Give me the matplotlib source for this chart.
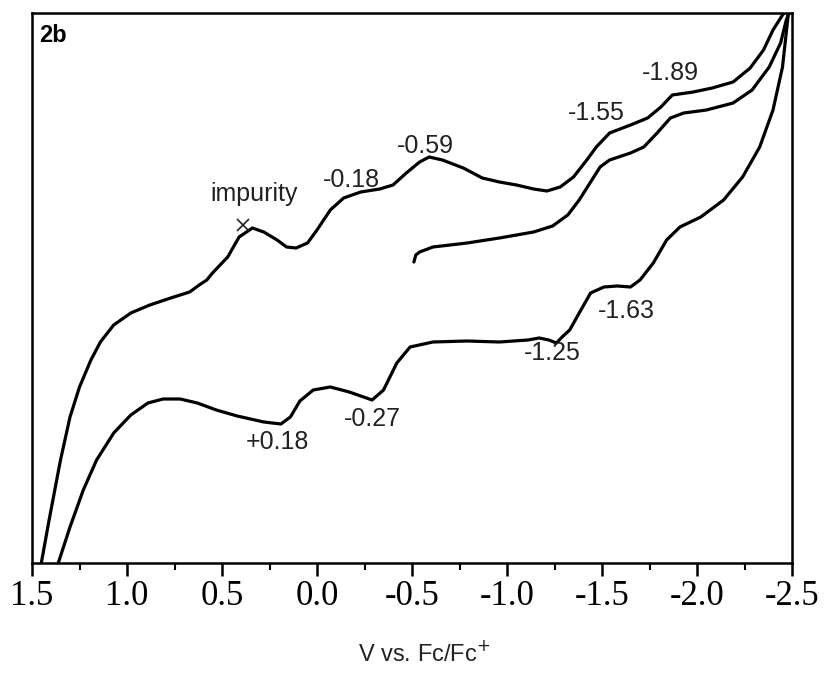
import numpy as np
import matplotlib
matplotlib.use("Agg")
import matplotlib.pyplot as plt

plt.rcParams['axes.unicode_minus'] = False

# forward scan (upper branch): potential (V) and current (arb. units)
up_v = [1.46, 1.45, 1.41, 1.35, 1.30, 1.25, 1.19, 1.14, 1.07, 0.98, 0.88, 0.77,
        0.67, 0.62, 0.58, 0.55, 0.47, 0.41, 0.34, 0.28, 0.21, 0.16, 0.11, 0.05,
        0.00, -0.07, -0.14, -0.23, -0.33, -0.40, -0.47, -0.54, -0.59, -0.66,
        -0.77, -0.87, -0.96, -1.05, -1.14, -1.21, -1.28, -1.35, -1.42, -1.47,
        -1.54, -1.65, -1.74, -1.81, -1.87, -1.98, -2.08, -2.19, -2.28, -2.35,
        -2.40, -2.45, -2.50]
up_i = [-12, 1, 43, 103, 146, 176, 203, 221, 238, 250, 258, 265,
        271, 278, 283, 290, 306, 326, 335, 331, 323, 316, 315, 320,
        333, 353, 365, 371, 374, 378, 390, 401, 406, 403,
        395, 385, 381, 378, 374, 372, 376, 386, 403, 416,
        430, 438, 445, 456, 468, 471, 475, 481, 495, 513,
        533, 548, 560]

# initial scan from -0.5 V (middle branch)
mid_v = [-0.51, -0.52, -0.54, -0.61, -0.79, -0.96, -1.14, -1.24, -1.32, -1.38,
         -1.44, -1.49, -1.54, -1.65, -1.72, -1.79, -1.86, -1.93, -2.05, -2.19,
         -2.29, -2.38, -2.44, -2.47, -2.50]
mid_i = [301, 308, 311, 316, 320, 325, 331, 337, 348, 363,
         381, 396, 403, 410, 416, 430, 445, 450, 453, 460,
         473, 496, 520, 543, 558]

# return scan (lower branch)
low_v = [-2.50, -2.48, -2.45, -2.40, -2.33, -2.24, -2.14, -2.02, -1.91, -1.84,
         -1.77, -1.70, -1.65, -1.58, -1.51, -1.44, -1.38, -1.33, -1.29, -1.26,
         -1.22, -1.17, -1.11, -0.96, -0.79, -0.61, -0.49, -0.42, -0.35, -0.29,
         -0.17, -0.07, 0.02, 0.09, 0.14, 0.19, 0.28, 0.42, 0.53, 0.63, 0.72,
         0.81, 0.89, 0.98, 1.07, 1.16, 1.23, 1.30, 1.36, 1.38]
low_i = [558, 548, 496, 453, 416, 386, 363, 346, 336, 323,
         300, 283, 276, 277, 276, 270, 250, 233, 226, 220,
         223, 225, 223, 221, 222, 221, 216, 200, 173, 163,
         171, 176, 173, 162, 146, 139, 141, 147, 153, 160, 164,
         164, 160, 148, 130, 103, 73, 36, 1, -12]

# peak labels: text, potential, current
labels = ["impurity", "-0.18", "-0.59", "-1.55", "-1.89",
          "-1.63", "-1.25", "+0.18", "-0.27"]
label_v = [0.33, -0.18, -0.57, -1.47, -1.86, -1.63, -1.24, 0.21, -0.29]
label_i = [369, 383, 417, 450, 490, 252, 210, 121, 144]

ticks = [1.5, 1.0, 0.5, 0.0, -0.5, -1.0, -1.5, -2.0, -2.5]
tick_labels = ["1.5", "1.0", "0.5", "0.0", "-0.5", "-1.0", "-1.5", "-2.0", "-2.5"]

fig = plt.figure(figsize=(8.24, 6.73), dpi=100)
ax = fig.add_axes([32 / 824, 110 / 673, 760 / 824, 550 / 673])

for v, i in [(up_v, up_i), (mid_v, mid_i), (low_v, low_i)]:
    ax.plot(v, i, color='black', lw=2.3, solid_capstyle='round',
            solid_joinstyle='round')

ax.plot([0.39], [338], marker='x', color='#222222', ms=9, mew=1.2)

for t, v, i in zip(labels, label_v, label_i):
    ax.text(v, i, t, ha='center', va='center', fontsize=18,
            family='Liberation Sans', color='#222222')

ax.text(0.028, 0.96, "2b", transform=ax.transAxes, ha='center', va='center',
        fontsize=17, fontweight='bold', family='Liberation Sans')

ax.set_xlim(1.5, -2.5)
ax.set_ylim(0, 550)
ax.set_yticks([])
ax.set_xticks(ticks)
ax.set_xticklabels(tick_labels, family='Liberation Serif', fontsize=25)
ax.set_xticks(np.arange(-2.25, 1.5, 0.5), minor=True)
ax.tick_params(axis='x', which='major', direction='out', length=9, width=1.8, pad=3)
ax.tick_params(axis='x', which='minor', direction='out', length=5, width=1.5)
for s in ax.spines.values():
    s.set_linewidth(1.8)

ax.set_xlabel(r"V vs. Fc/Fc$^{+}$", family='Liberation Sans', fontsize=17,
              color='#222222')
ax.xaxis.set_label_coords(0.516, -0.142)

fig.savefig("out.png", dpi=100)
